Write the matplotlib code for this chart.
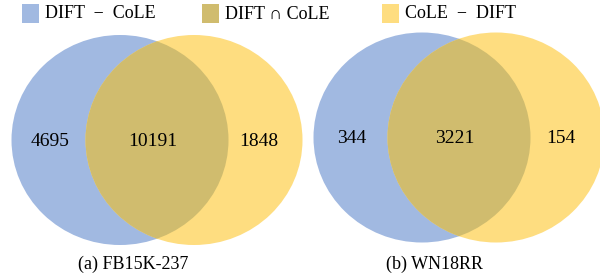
import matplotlib
matplotlib.use('Agg')
import matplotlib.pyplot as plt
from matplotlib.patches import Ellipse, Rectangle

plt.rcParams['font.family'] = ['Liberation Serif', 'DejaVu Serif']

# dados
datasets = ['(a) FB15K-237', '(b) WN18RR']
only_dift = [4695, 344]
both = [10191, 3221]
only_cole = [1848, 154]
legend_labels = ['DIFT  \u2212  CoLE', 'DIFT \u2229 CoLE', 'CoLE  \u2212  DIFT']

# cores
c_blue = '#A1B9E1'
c_mix = '#D0BC6E'
c_yellow = '#FEDD80'
colors = [c_blue, c_mix, c_yellow]

# layout (pixels)
centers = [(120, 140), (422, 137.5)]
shift = 74
rx, ry = 108.5, 105

fig = plt.figure(figsize=(6, 2.75), dpi=100)
ax = fig.add_axes([0, 0, 1, 1])
ax.set_xlim(0, 600)
ax.set_ylim(275, 0)
ax.axis('off')

for i, (cx, cy) in enumerate(centers):
    blue = Ellipse((cx, cy), 2 * rx, 2 * ry, color=c_blue, lw=0)
    yellow = Ellipse((cx + shift, cy), 2 * rx, 2 * ry, color=c_yellow, lw=0)
    ax.add_patch(blue)
    ax.add_patch(yellow)
    mix = Ellipse((cx + shift, cy), 2 * rx, 2 * ry, color=c_mix, lw=0)
    ax.add_patch(mix)
    mix.set_clip_path(blue)

    ty = cy + 1
    ax.text(cx - 70, ty, str(only_dift[i]), ha='center', va='center', fontsize=14)
    ax.text(cx + shift / 2 - 4, ty, str(both[i]), ha='center', va='center', fontsize=14)
    ax.text(cx + shift + 65, ty, str(only_cole[i]), ha='center', va='center', fontsize=14)

    ax.text(cx + shift / 2 - 24, 264, datasets[i], ha='center', va='center', fontsize=13)

# legenda
leg_x = [22, 202, 382]
for x, lab, col in zip(leg_x, legend_labels, colors):
    ax.add_patch(Rectangle((x, 4), 17, 19, color=col, lw=0))
    ax.text(x + 23, 14, lab, ha='left', va='center', fontsize=13)

fig.savefig('out.png', dpi=100)
